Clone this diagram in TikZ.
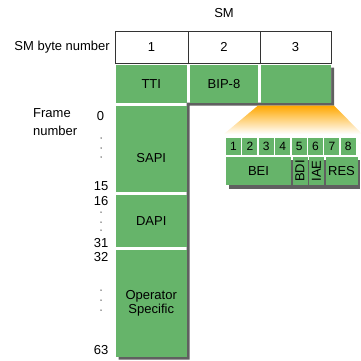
\documentclass[tikz,border=0pt]{standalone}
\usepackage{fontspec}
\setmainfont{Liberation Sans}
\usetikzlibrary{calc}
\definecolor{smgreen}{RGB}{102,180,106}
\definecolor{smshadow}{RGB}{96,96,96}
\definecolor{fanorange}{RGB}{255,168,0}
\definecolor{fanyellow}{RGB}{255,222,120}

\begin{document}
\begin{tikzpicture}[x=1pt,y=-1pt,
  txt/.style={font=\fontsize{13}{14}\selectfont,text=black,inner sep=0pt},
  head/.style={draw=black!80,line width=0.8pt,fill=white,minimum height=32pt,inner sep=0pt,font=\fontsize{13}{14}\selectfont},
  cell/.style={fill=smgreen,inner sep=0pt,align=center,font=\fontsize{13}{13.5}\selectfont},
  shadow/.style={fill=smshadow},
  framedot/.style={fill=black!70,radius=0.75pt},
]
\useasboundingbox[fill=white] (0,0) rectangle (360,361);

% header
\node[txt] (sm) at (224,13) {SM};
\node[head,minimum width=73pt] (b1) at (151.5,47) {1};
\node[head,minimum width=72pt] (b2) at (224,47) {2};
\node[head,minimum width=71pt] (b3) at (295.5,47) {3};
\node[txt,anchor=east] (bytenum) at (110,47) {SM byte number};

% overhead block with shadow
\fill[shadow] (118.5,67.5) -- (334,67.5) -- (334,105.5) -- (189.5,105.5) -- (189.5,359.5) -- (118.5,359.5) -- cycle;
\fill[white] (116,65) -- (331,65) -- (331,102.5) -- (186.5,102.5) -- (186.5,356.5) -- (116,356.5) -- cycle;
\node[cell,minimum width=70.5pt,minimum height=37.5pt] (tti) at (151.25,83.75) {TTI};
\node[cell,minimum width=68pt,minimum height=37.5pt] (bip) at (224,83.75) {BIP-8};
\node[cell,minimum width=70pt,minimum height=37.5pt] (c3) at (296,83.75) {};
\node[cell,minimum width=70.5pt,minimum height=86pt] (sapi) at (151.25,149) {};
\node[txt] (sapitxt) at ($(sapi.center)+(0,9)$) {SAPI};
\node[cell,minimum width=70.5pt,minimum height=52pt] (dapi) at (151.25,221) {DAPI};
\node[cell,minimum width=70.5pt,minimum height=106.5pt] (opsp) at (151.25,303.25) {Operator\\Specific};

% frame numbers
\node[txt,anchor=north west,align=left] (frame) at (33,108) {Frame\\[4pt]number};
\node[txt] (f0) at (100.5,116) {0};
\node[txt,anchor=east] (f15) at (108.5,186) {15};
\node[txt,anchor=east] (f16) at (108.5,201) {16};
\node[txt,anchor=east] (f31) at (108.5,243) {31};
\node[txt,anchor=east] (f32) at (108.5,257) {32};
\node[txt,anchor=east] (f63) at (108.5,350) {63};
\foreach \y in {138,148,157,212,222,230,290,300,310}
  \fill[framedot] (101,\y) circle;

% fan out of byte 3
\shade[top color=fanorange,middle color=fanyellow,bottom color=white]
  ($(c3.south west)+(-3,3)$) -- ($(c3.south east)+(3,3)$) -- (362,134) -- (224,134) -- cycle;

% bits of byte 3
\fill[shadow] (229,160) rectangle (360,188.5);
\foreach \i in {1,...,8}
  \node[cell,minimum width=15pt,minimum height=17pt,font=\fontsize{12}{13}\selectfont] (bit\i) at ({233.5+(\i-1)*16.4},146.5) {\i};
\node[cell,minimum width=65pt,minimum height=28pt] (bei) at (258.5,171) {BEI};
\node[cell,minimum width=28pt,minimum height=15pt,rotate=90] (bdi) at (300,171) {BDI};
\node[cell,minimum width=28pt,minimum height=15pt,rotate=90] (iae) at (316.5,171) {IAE};
\node[cell,minimum width=32pt,minimum height=28pt] (res) at (341.5,171) {RES};

\end{tikzpicture}
\end{document}
